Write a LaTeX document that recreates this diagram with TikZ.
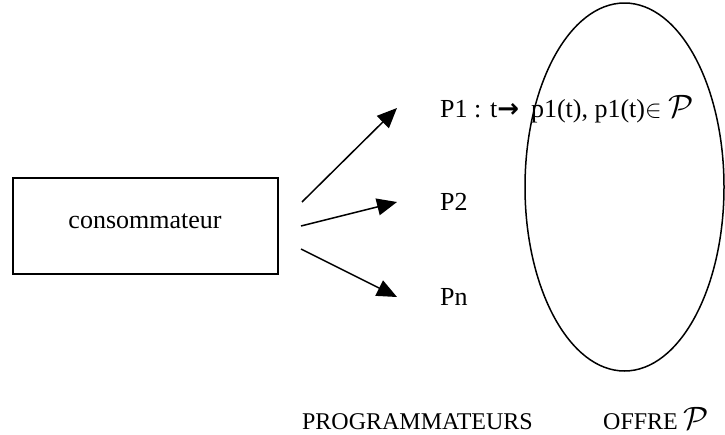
\documentclass[tikz,border=0pt]{standalone}
\usepackage{fontspec}
\setmainfont{Liberation Serif}
\usetikzlibrary{arrows.meta}
\newfontfamily\symfont{DejaVu Sans}
\newcommand{\bigP}{\scalebox{1.3}{$\mathcal{P}$}}
\tikzset{
  box/.style={draw, line width=1.5pt, minimum width=265pt, minimum height=96pt, inner sep=0pt},
  lab/.style={anchor=base west, inner sep=0pt, font=\fontsize{26}{30}\selectfont},
  foot/.style={anchor=base west, inner sep=0pt, font=\fontsize{24}{28}\selectfont},
  arr/.style={line width=1.5pt, -{Triangle[length=20pt,width=17pt]}},
}
\begin{document}
\begin{tikzpicture}[x=1pt,y=-1pt]
\useasboundingbox (0,0) rectangle (725,434);
\node[box] (cons) at (145.5,226) {};
\node[anchor=base, inner sep=0pt, font=\fontsize{26}{30}\selectfont] (ct) at (145,228) {consommateur};
\draw[line width=1.5pt] (624.5,187) ellipse [x radius=99.5, y radius=184];
\coordinate (s1) at (302,202);
\coordinate (s2) at (301,226);
\coordinate (s3) at (301,249);
\coordinate (e1) at (397,108);
\coordinate (e2) at (397,202);
\coordinate (e3) at (397,297);
\draw[arr] (s1) -- (e1);
\draw[arr] (s2) -- (e2);
\draw[arr] (s3) -- (e3);
\node[lab] (p1) at (440,117) {P1 : t{\symfont\bfseries →}\hspace{12pt}p1(t), p1(t)$\in$ \bigP};
\node[lab] (p2) at (440,210) {P2};
\node[lab] (pn) at (440,305) {Pn};
\node[foot, anchor=base east] (prog) at (533,429) {PROGRAMMATEURS};
\node[foot] (off) at (603,429) {OFFRE \bigP};
\end{tikzpicture}
\end{document}
